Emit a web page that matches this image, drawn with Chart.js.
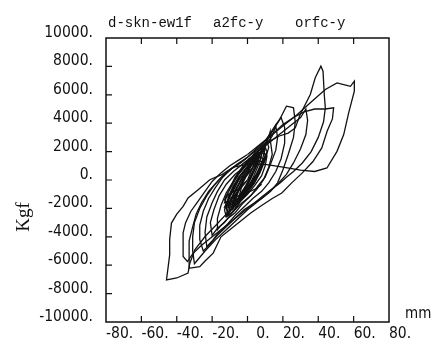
<!DOCTYPE html>
<html>
<head>
<meta charset="utf-8">
<script src="https://cdn.jsdelivr.net/npm/chart.js@4.4.0/dist/chart.umd.min.js"></script>
<style>
  html, body { margin: 0; padding: 0; background: #fff; }
  canvas { display: block; }
</style>
</head>
<body>
<canvas id="c" width="434" height="350"></canvas>
<script>
// hysteresis record, displacement (mm) vs load (kgf)
const TITLE_PARTS = ["d-skn-ew1f", "a2fc-y", "orfc-y"];
const X_TICKS = [-80, -60, -40, -20, 0, 20, 40, 60, 80];
const Y_TICKS = [-10000, -8000, -6000, -4000, -2000, 0, 2000, 4000, 6000, 8000, 10000];

// small cycles, dense centre
const cycle0 = [[0,0],[-4,-600],[-8,-1200],[-12,-1800],[-8,-1700],[-4,-1300],[0,-800],[4,-100],[7,600],[9,1200],[10,1800],[8,1900],[4,1700],[0,1200],[-4,600],[-8,-200],[-11,-900],[-13,-1600],[-10,-1500],[-6,-1400],[-2,-900],[2,-300],[5,300],[8,1000],[9,1500],[7,1600],[3,1300],[-1,800],[-5,200],[-8,-500],[-11,-1200],[-9,-1300],[-5,-1100],[-1,-600],[3,0],[6,600],[8,1300],[6,1400],[2,1000],[-2,500],[-6,-200],[-9,-900],[-13,-1900],[-9,-1900],[-4,-1500],[0,-1000],[4,-400],[8,300],[10,1000],[11,1700],[9,2000],[5,1900],[1,1500],[-3,900],[-7,200],[-10,-600],[-13,-1400],[-11,-1700],[-7,-1500],[-3,-1100],[1,-500],[4,100],[7,800],[9,1400],[7,1700],[3,1500],[-1,1000],[-5,400],[-9,-400],[-12,-1100],[-6,-700],[0,0]];
const cycle1 = [[0,0],[2,600],[4,1100],[6,1500],[5,1100],[3,500],[0,-300],[-3,-900],[-5,-1300],[-7,-1600],[-6,-1100],[-4,-500],[-1,200],[2,700],[4,1200],[6,1600],[5,1000],[2,300],[-1,-400],[-4,-1000],[-6,-1400],[-8,-1700],[-7,-1200],[-4,-500],[-1,300],[3,900],[5,1400],[7,1800],[6,1200],[3,400],[0,-400],[-3,-1000],[-6,-1500],[-9,-1900],[-8,-1300],[-5,-600],[-2,200],[1,800]];
const cycle1b = [[1,800],[3,1300],[5,1600],[4,900],[1,100],[-1,-600],[-3,-1200],[-6,-1700],[-4,-800],[-2,100],[1,700],[3,1400],[6,2000],[5,1100],[2,200],[-1,-500],[-4,-1300],[-8,-2000],[-6,-1000],[-3,-200],[0,500],[3,1200],[5,1900],[9,2300],[7,1300],[4,400],[1,-400],[-2,-1000],[-5,-1700],[-8,-2200],[-11,-2500],[-9,-1400],[-6,-600],[-3,100],[0,800],[4,1500],[7,1800],[10,2200],[8,1200],[5,400],[2,-300],[-1,-900],[-5,-1500],[-9,-2100],[-12,-2500],[-10,-1500],[-7,-700],[-3,200],[1,900]];
const cycle2 = [[1,900],[4,1300],[7,1900],[10,2300],[11,2000],[9,1200],[6,400],[3,-300],[0,-700],[-4,-1400],[-8,-1800],[-11,-2400],[-12,-2000],[-10,-1200],[-7,-500],[-4,300],[0,900],[4,1400],[8,2100],[11,2700],[12,2300],[10,1400],[7,500],[4,-200],[0,-900],[-4,-1500],[-8,-2200],[-12,-2600],[-13,-2100],[-11,-1300],[-8,-400],[-4,300],[0,1000]];
const cycle2b = [[0,1000],[5,1500],[10,2400],[14,3100],[16,3800],[17,3000],[16,2100],[13,1100],[10,200],[6,-400],[2,-1100],[-3,-1600],[-8,-2200],[-13,-3000],[-17,-3400],[-20,-3900],[-21,-3000],[-19,-2100],[-16,-1100],[-12,-300],[-7,400],[-3,800],[0,1200]];
const cycle3 = [[0,1000],[4,1600],[8,2000],[11,2600],[12.8,3400],[13,2700],[14,1800],[12,900],[9,0],[5,-700],[1,-1200],[-3,-1700],[-7,-2300],[-11,-2700],[-15,-3200],[-17,-3500],[-17,-2700],[-15,-1800],[-12,-900],[-8,-100],[-4,700],[0,1300]];
const cycle3b = [[0,1200],[4,1900],[9,2600],[13,3300],[16,3900],[19,4400],[21,3700],[21,2600],[19,1500],[16,600],[12,-200],[8,-800],[3,-1300],[-2,-1900],[-7,-2500],[-12,-3200],[-17,-3800],[-20,-4300],[-23,-4700],[-24,-3700],[-23,-2600],[-20,-1600],[-17,-800],[-13,0],[-8,600],[-3,1100],[0,1400]];
const cycle4 = [[0,1300],[5,1900],[10,2600],[14,3400],[17.5,4100],[20,4700],[22,5200],[24,5150],[26,5080],[27,4100],[26,3000],[23,1800],[20,700],[17,-200],[13,-800],[8,-1300],[3,-1700],[-2,-2100],[-7,-2700],[-12,-3300],[-17,-3900],[-21,-4500],[-25,-5000],[-27,-4200],[-27,-3200],[-25,-2200],[-22,-1300],[-18,-500],[-14,200],[-9,800],[-4,1200],[0,1600]];
const cycle4b = [[0,1400],[6,2000],[12,2600],[18,3200],[24,3800],[30,4400],[33,5000],[34,4200],[33,3200],[30,2200],[26,1200],[22,400],[17,-300],[12,-900],[6,-1500],[0,-2100],[-6,-2800],[-12,-3500],[-18,-4200],[-24,-5000],[-28,-5600],[-30,-5900],[-31,-5000],[-31,-4000],[-30,-3000],[-27,-2000],[-23,-1100],[-19,-400],[-14,300],[-8,900],[-3,1300],[0,1600]];
const cycle5 = [[0,1600],[6,2200],[12,2700],[18,3100],[23,3300],[27,3668],[29.8,4607],[35.5,6017],[38.3,7195],[41.5,8015],[42.7,7660],[43.4,6017],[44,5080],[43,4100],[40,3000],[36,2000],[31,1200],[26,600],[22,200],[18.4,-210],[13,-700],[8,-1200],[3,-1700],[-3,-2300],[-9,-2900],[-15,-3500],[-21,-4100],[-26,-4600],[-31,-5200],[-34,-5740],[-36.4,-5390],[-36.4,-4500],[-36.4,-3720],[-35,-3000],[-32,-2200],[-28,-1500],[-24,-800],[-20,-100],[-15,500],[-10,1000],[-5,1400],[0,1800]];
const cycle6 = [[0,1800],[7,2500],[14,3200],[20,3900],[26,4400],[32,4800],[38,5000],[44,5000],[48.7,5080],[48,4300],[45,3430],[42,2257],[37,1300],[31,500],[25,-200],[19.4,-917],[14,-1300],[8,-1800],[2,-2300],[-4,-2900],[-10,-3500],[-15,-4000],[-19.4,-5150],[-24,-5700],[-27,-6100],[-32.6,-6200],[-33,-5300],[-33,-4300],[-31,-3300],[-29,-2400],[-26,-1600],[-22,-800],[-17,-100],[-12,500],[-6,1100],[0,1600]];
const cycle7 = [[0,1600],[5,2200],[12,3000],[20,3800],[28,4600],[36,5500],[44,6370],[50.6,6843],[55,6700],[58.2,6600],[60.4,6956],[60.4,6250],[57.2,4727],[54.4,3196],[50.6,2018],[44.9,847],[38,600],[30,700],[20,900],[10,1100],[0,1100],[-8,900],[-14.6,374],[-21.3,21],[-27.9,-684],[-33.6,-1270],[-36.4,-1862],[-40,-2400],[-43,-3033],[-44,-4200],[-44,-5270],[-45.8,-7034],[-40,-6900],[-33.6,-6560],[-32.6,-5860],[-29.8,-4917],[-24,-3980],[-18,-3200],[-12,-2400],[-6,-1600],[0,-900],[5,-600],[8,-300]];

const cycles = [cycle0, cycle1, cycle1b, cycle2, cycle2b, cycle3, cycle3b, cycle4, cycle4b, cycle5, cycle6, cycle7];

const INK = "#111";
const NARROW = "'Liberation Sans Narrow', 'DejaVu Sans Condensed', sans-serif";

const framePlugin = {
  id: "frame",
  afterDraw(chart) {
    const { ctx, chartArea: a, scales } = chart;
    const xs = scales.x, ys = scales.y;
    const tl = 6;
    ctx.save();
    ctx.strokeStyle = INK;
    ctx.lineWidth = 1.5;
    ctx.strokeRect(a.left, a.top, a.right - a.left, a.bottom - a.top);
    ctx.lineWidth = 1.2;
    ctx.beginPath();
    X_TICKS.slice(1, -1).forEach((v) => {
      const px = xs.getPixelForValue(v);
      ctx.moveTo(px, a.top); ctx.lineTo(px, a.top + tl);
      ctx.moveTo(px, a.bottom); ctx.lineTo(px, a.bottom - tl);
    });
    Y_TICKS.slice(1, -1).forEach((v) => {
      const py = ys.getPixelForValue(v);
      ctx.moveTo(a.left, py); ctx.lineTo(a.left + tl, py);
    });
    ctx.stroke();

    ctx.fillStyle = INK;
    ctx.textBaseline = "alphabetic";
    ctx.textAlign = "left";
    ctx.font = "14px 'Liberation Mono', monospace";
    ctx.fillText(TITLE_PARTS[0], a.left + 2, 27);
    ctx.fillText(TITLE_PARTS[1], a.left + 107, 27);
    ctx.fillText(TITLE_PARTS[2], a.left + 189, 27);

    ctx.font = "15px " + NARROW;
    ctx.fillText("mm", a.right + 16, 318);

    ctx.translate(24, 217);
    ctx.rotate(-Math.PI / 2);
    ctx.textAlign = "center";
    ctx.textBaseline = "middle";
    ctx.font = "19px 'Liberation Serif', serif";
    ctx.fillText("Kgf", 0, 0);
    ctx.restore();
  }
};

new Chart(document.getElementById("c"), {
  type: "scatter",
  data: {
    datasets: cycles.map((pts) => ({
      data: pts.map(([x, y]) => ({ x, y })),
      showLine: true,
      borderColor: INK,
      borderWidth: 1.3,
      pointRadius: 0,
      tension: 0,
      fill: false
    }))
  },
  options: {
    responsive: false,
    animation: false,
    devicePixelRatio: 1,
    layout: { padding: { top: 38, right: 45, left: 0, bottom: 0 } },
    plugins: { legend: { display: false }, tooltip: { enabled: false }, title: { display: false } },
    scales: {
      x: {
        type: "linear", min: -80, max: 80,
        afterFit: (s) => { s.height = 28; },
        afterBuildTicks: (s) => { s.ticks = X_TICKS.map((v) => ({ value: v })); },
        grid: { display: false, drawTicks: false },
        border: { display: false },
        ticks: {
          align: "start", padding: 3, color: INK,
          font: { family: NARROW, size: 15.5 },
          callback: (v) => (v === 0 ? "  0." : v + "."),
          maxRotation: 0, autoSkip: false
        }
      },
      y: {
        type: "linear", min: -10000, max: 10000,
        afterFit: (s) => { s.width = 106; },
        afterBuildTicks: (s) => { s.ticks = Y_TICKS.map((v) => ({ value: v })); },
        grid: { display: false, drawTicks: false },
        border: { display: false },
        ticks: {
          padding: 13, labelOffset: -5, color: INK,
          font: { family: NARROW, size: 15.5 },
          callback: (v) => v + ".",
          autoSkip: false
        }
      }
    }
  },
  plugins: [framePlugin]
});
</script>
</body>
</html>
